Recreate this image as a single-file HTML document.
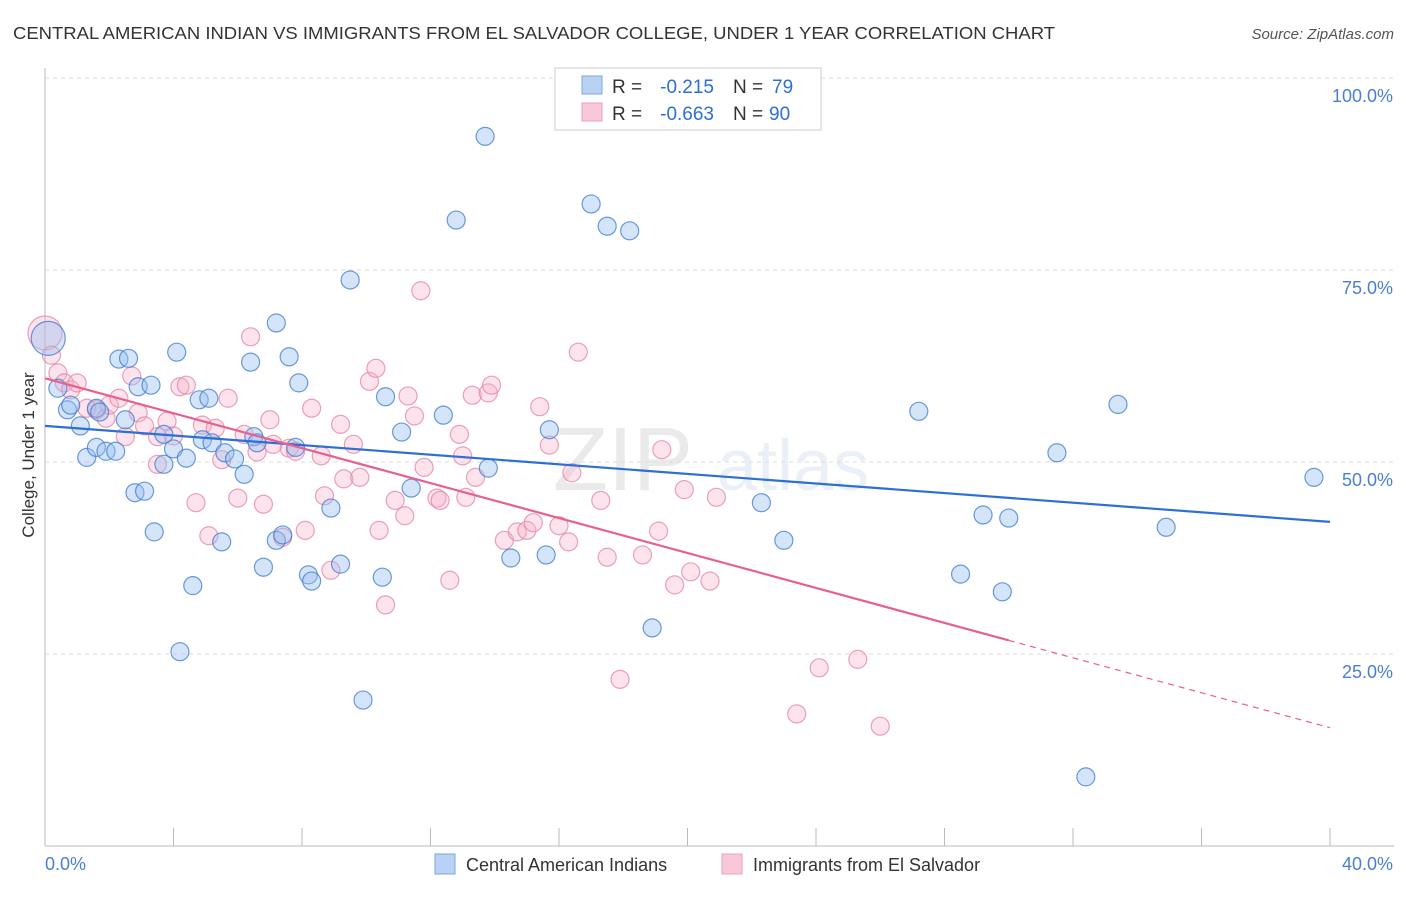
<!DOCTYPE html>
<html><head><meta charset="utf-8"><style>
body{margin:0;background:#fff;font-family:"Liberation Sans",sans-serif;}
svg text{font-family:"Liberation Sans",sans-serif;}
</style></head><body>
<svg id="chart" width="1406" height="892" xmlns="http://www.w3.org/2000/svg">
<text x="13" y="39" font-size="17.5" fill="#333" textLength="1042" lengthAdjust="spacingAndGlyphs">CENTRAL AMERICAN INDIAN VS IMMIGRANTS FROM EL SALVADOR COLLEGE, UNDER 1 YEAR CORRELATION CHART</text>
<text x="1394" y="39" font-size="15" fill="#555" text-anchor="end" font-style="italic">Source: ZipAtlas.com</text>
<g opacity="0.13"><text x="553" y="490" font-size="90" font-family="Liberation Serif" fill="#666">ZIP</text><text x="717" y="490" font-size="72" fill="#6a8fd0">atlas</text></g>
<g id="grid"></g>
<g id="axes"></g>
<g id="pts"></g>
<g id="trends"></g>
<text transform="translate(34,455) rotate(-90)" font-size="17" fill="#333" text-anchor="middle">College, Under 1 year</text>
<g>
<rect x="555" y="68" width="266" height="62" fill="#fff" stroke="#ccc"/>
<rect x="582" y="76" width="20" height="18" fill="#b9d1f3" stroke="#7ea6e0"/>
<rect x="582" y="103" width="20" height="18" fill="#f8c8d8" stroke="#eca0ba"/>
<text x="612" y="93" font-size="19" fill="#333">R =</text>
<text x="714" y="93" font-size="19" fill="#2c6fd6" text-anchor="end">-0.215</text>
<text x="733" y="93" font-size="19" fill="#333">N =</text>
<text x="772" y="93" font-size="19" fill="#2c6fd6">79</text>
<text x="612" y="120" font-size="19" fill="#333">R =</text>
<text x="714" y="120" font-size="19" fill="#2c6fd6" text-anchor="end">-0.663</text>
<text x="733" y="120" font-size="19" fill="#333">N =</text>
<text x="769" y="120" font-size="19" fill="#2c6fd6">90</text>
</g>
<g>
<rect x="435" y="854" width="20" height="20" fill="#b9d1f3" stroke="#7ea6e0"/>
<text x="466" y="871" font-size="18" fill="#333">Central American Indians</text>
<rect x="722" y="854" width="20" height="20" fill="#f8c8d8" stroke="#eca0ba"/>
<text x="753" y="871" font-size="18" fill="#333">Immigrants from El Salvador</text>
</g>
</svg>
<script>
const yTicks=[25,50,75,100];
const yTickLabels=["25.0%","50.0%","75.0%","100.0%"];
const xEndLabels=["0.0%","40.0%"];
const blueX=[0.1,0.4,0.7,0.8,1.1,1.3,1.6,1.6,1.7,1.9,2.2,2.3,2.5,2.6,2.8,2.9,3.1,3.3,3.4,3.7,3.7,4.0,4.1,4.2,4.4,4.6,4.8,4.9,5.1,5.2,5.5,5.6,5.9,6.2,6.4,6.5,6.6,6.8,7.2,7.2,7.4,7.6,7.8,7.9,8.2,8.3,8.9,9.2,9.5,9.9,10.5,10.6,11.1,11.4,12.4,12.8,13.7,13.8,14.5,15.6,15.7,17.0,17.5,18.2,18.9,22.3,23.0,27.2,28.5,29.2,29.8,30.0,31.5,32.4,33.4,34.9,39.5];
const blueY=[66.1,59.6,56.8,57.4,54.7,50.6,51.9,57.0,56.5,51.4,51.4,63.4,55.5,63.5,46.0,59.8,46.2,60.0,40.9,49.7,53.6,51.7,64.3,25.3,50.5,33.9,58.1,52.9,58.3,52.5,39.6,51.2,50.4,48.4,63.0,53.3,52.5,36.3,39.8,68.1,40.5,63.7,51.9,60.3,35.3,34.5,44.0,36.7,73.7,19.0,35.0,58.5,53.9,46.6,56.1,81.5,92.4,49.2,37.5,37.9,54.2,83.6,80.7,80.1,28.4,44.7,39.8,56.6,35.4,43.1,33.1,42.7,51.2,9.0,57.5,41.5,48.0];
const pinkX=[0.0,0.2,0.4,0.6,0.8,1.0,1.3,1.6,1.9,2.0,2.3,2.5,2.7,2.9,3.1,3.5,3.5,3.8,4.0,4.2,4.4,4.7,4.9,5.1,5.3,5.5,5.7,6.0,6.2,6.4,6.6,6.8,7.0,7.1,7.4,7.6,7.8,8.1,8.3,8.6,8.7,8.9,9.2,9.3,9.6,9.8,10.1,10.3,10.4,10.6,10.9,11.2,11.3,11.5,11.7,11.8,12.2,12.3,12.6,12.9,13.0,13.1,13.3,13.4,13.8,13.9,14.3,14.7,15.0,15.2,15.4,15.7,16.0,16.3,16.4,16.6,17.3,17.5,17.9,18.6,19.1,19.2,19.6,19.9,20.1,20.7,20.9,23.4,24.1,25.3,26.0];
const pinkY=[66.8,63.9,61.6,60.3,59.4,60.3,57.0,56.8,55.7,57.4,58.3,53.3,61.2,56.4,54.7,49.7,53.3,55.3,53.4,59.8,60.0,44.7,54.8,40.4,54.4,50.3,58.3,45.3,53.6,66.3,51.3,44.5,55.5,52.3,40.2,51.8,51.4,41.1,57.0,50.8,45.6,35.9,54.9,47.8,52.3,48.0,60.5,62.2,41.1,31.4,45.0,43.0,58.6,56.0,72.3,49.3,45.3,45.0,34.6,53.6,50.8,45.4,58.7,48.0,59.0,60.0,39.8,40.9,41.1,42.1,57.2,52.2,41.7,39.6,48.6,64.3,45.0,37.6,21.7,37.9,41.0,51.6,34.0,46.4,35.7,34.5,45.4,17.2,23.2,24.3,15.6];
const blueTrend=[54.7,42.2];
const pinkTrend=[60.9,15.4];
const pinkSolidEnd=30.0;

const NS="http://www.w3.org/2000/svg";
const X0=45,X1=1330,Y0=846,YS=7.68;
function sx(v){return X0+(X1-X0)*v/40;}
function sy(v){return Y0-v*YS;}
function mk(tag,attrs,parent){const e=document.createElementNS(NS,tag);for(const k in attrs)e.setAttribute(k,attrs[k]);parent.appendChild(e);return e;}
const grid=document.getElementById('grid'),axes=document.getElementById('axes'),pts=document.getElementById('pts'),tr=document.getElementById('trends');
yTicks.forEach((t,i)=>{
 const l=mk('line',{x1:X0,x2:1394,y1:sy(t),y2:sy(t),stroke:'#ddd','stroke-dasharray':'4,4'},grid);
 
 
 const tx=mk('text',{x:1393,y:sy(t)+24,'font-size':18,fill:'#4a7fd4','text-anchor':'end'},grid);
 tx.textContent=yTickLabels[i];
 
 
});
mk('line',{x1:X0,x2:X0,y1:68,y2:Y0,stroke:'#bbb'},axes);
mk('line',{x1:X0,x2:1394,y1:Y0,y2:Y0,stroke:'#bbb'},axes);
for(let i=0;i<=10;i++){const t=mk('line',{x1:sx(i*4),x2:sx(i*4),y1:828,y2:Y0,stroke:'#bbb'},axes);
 
 }
const xl0=mk('text',{x:45,y:870,'font-size':18,fill:'#4a7fd4'},axes);xl0.textContent=xEndLabels[0];


const xl1=mk('text',{x:1393,y:870,'font-size':18,fill:'#4a7fd4','text-anchor':'end'},axes);xl1.textContent=xEndLabels[1];


function drawPts(xs,ys,fill,stroke,name){xs.forEach((x,i)=>{const r=i===0?17:9;
 const c=mk('circle',{cx:sx(x),cy:sy(ys[i]),r:r,fill:fill,stroke:stroke,'stroke-width':1.2},pts);
 
 });}
drawPts(pinkX,pinkY,'rgba(245,175,200,0.35)','rgba(230,130,165,0.75)','pink-point');
drawPts(blueX,blueY,'rgba(150,190,240,0.4)','rgba(60,120,210,0.75)','blue-point');
const bl=mk('line',{x1:sx(0),y1:sy(blueTrend[0]),x2:sx(40),y2:sy(blueTrend[1]),stroke:'#2c6fd6','stroke-width':2.2},tr);


const pAt=x=>pinkTrend[0]+(pinkTrend[1]-pinkTrend[0])*x/40;
const pl=mk('line',{x1:sx(0),y1:sy(pinkTrend[0]),x2:sx(pinkSolidEnd),y2:sy(pAt(pinkSolidEnd)),stroke:'#e8608f','stroke-width':2.2},tr);


const pd=mk('line',{x1:sx(pinkSolidEnd),y1:sy(pAt(pinkSolidEnd)),x2:sx(40),y2:sy(pinkTrend[1]),stroke:'#e8608f','stroke-width':1.2,'stroke-dasharray':'6,5'},tr);


</script>
</body></html>
